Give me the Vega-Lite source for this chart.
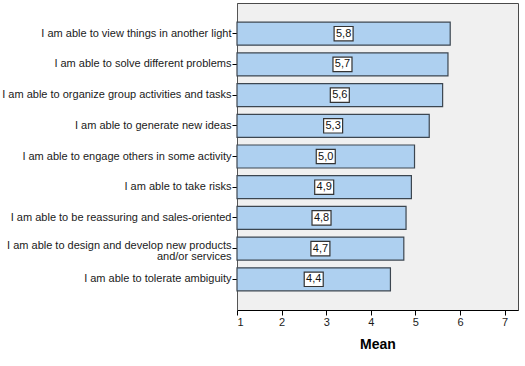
{
  "$schema": "https://vega.github.io/schema/vega-lite/v6.json",
  "width": 281,
  "height": 307,
  "autosize": {"type": "none"},
  "padding": {"left": 237, "top": 3, "right": 7, "bottom": 56},
  "background": "white",
  "config": {
    "font": "Liberation Sans",
    "view": {"fill": "#f0f0f0", "stroke": "#4a4a4a", "strokeWidth": 1},
    "locale": {"number": {"decimal": ",", "thousands": ".", "grouping": [3], "currency": ["", ""]}}
  },
  "data": {
    "values": [
      {"item": "I am able to view things in another light", "mean": 5.78},
      {"item": "I am able to solve different problems", "mean": 5.73},
      {"item": "I am able to organize group activities and tasks", "mean": 5.61},
      {"item": "I am able to generate new ideas", "mean": 5.31},
      {"item": "I am able to engage others in some activity", "mean": 4.98},
      {"item": "I am able to take risks", "mean": 4.91},
      {"item": "I am able to be reassuring and sales-oriented", "mean": 4.79},
      {"item": "I am able to design and develop new products|and/or services", "mean": 4.74},
      {"item": "I am able to tolerate ambiguity", "mean": 4.44}
    ]
  },
  "encoding": {
    "y": {
      "field": "item",
      "type": "nominal",
      "sort": null,
      "scale": {"paddingInner": 0.25, "paddingOuter": 0.625},
      "axis": {
        "title": null,
        "labelExpr": "split(datum.label, '|')",
        "labelFontSize": 11,
        "labelColor": "#1a1a1a",
        "labelLimit": 300,
        "labelPadding": 1,
        "labelOffset": {"condition": {"test": "indexof(datum.value, '|') >= 0", "value": -3}, "value": 0},
        "tickSize": 5,
        "tickColor": "#000000",
        "domainColor": "#555555",
        "labelLineHeight": 11
      }
    }
  },
  "layer": [
    {
      "mark": {"type": "bar", "fill": "#aed0f0", "stroke": "#3c4650", "strokeWidth": 1.2},
      "encoding": {
        "x": {
          "field": "mean",
          "type": "quantitative",
          "scale": {"domain": [1, 7.3], "zero": false, "nice": false},
          "axis": {
            "title": "Mean",
            "titleFontSize": 14,
            "titleFontWeight": "bold",
            "titleColor": "#000000",
            "titlePadding": 10,
            "values": [1, 2, 3, 4, 5, 6, 7],
            "format": "d",
            "labelFontSize": 11,
            "labelColor": "#1a1a1a",
            "labelPadding": 1,
            "tickSize": 5,
            "tickColor": "#000000",
            "domainColor": "#000000",
            "grid": false
          }
        },
        "x2": {"datum": 1}
      }
    },
    {
      "mark": {"type": "point", "shape": "M-1,-0.76L1,-0.76L1,0.76L-1,0.76Z", "filled": true, "fill": "white", "stroke": "#333333", "strokeWidth": 1.2, "size": 361, "opacity": 1},
      "encoding": {
        "x": {"field": "mean", "type": "quantitative", "scale": {"domain": [1, 13.6], "zero": false, "nice": false}, "axis": null}
      }
    },
    {
      "mark": {"type": "text", "fontSize": 11, "color": "#111111", "baseline": "middle", "align": "center"},
      "encoding": {
        "x": {"field": "mean", "type": "quantitative", "scale": {"domain": [1, 13.6], "zero": false, "nice": false}, "axis": null},
        "text": {"field": "mean", "type": "quantitative", "format": ".1f"}
      }
    }
  ],
  "resolve": {"scale": {"x": "independent"}}
}
